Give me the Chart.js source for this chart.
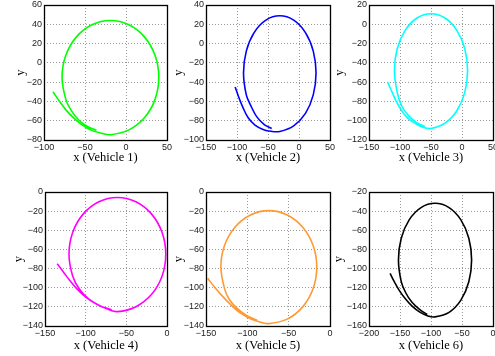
<!DOCTYPE html>
<html>
<head>
<meta charset="utf-8">
<script src="https://cdn.jsdelivr.net/npm/chart.js@4/dist/chart.umd.min.js"></script>
<style>
  body { margin: 0; background: #fff; }
  #wrap { position: relative; width: 495px; height: 356px; overflow: hidden; }
  #wrap canvas { position: absolute; }
</style>
</head>
<body>
<div id="wrap"></div>
<script>
// Trajectories (x, y per vehicle)
var v1x = [-89, -81, -73, -64, -54, -42, -30, -19, 3.6, 22.7, 35.5, 40, 35.5, 22.7, 3.6, -19, -41.6, -60.7, -73.5, -78, -73.5, -67, -58, -47, -36];
var v1y = [-30, -40, -49, -57, -64, -70, -73, -74.5, -69.5, -56.7, -37.6, -15, 7.6, 26.7, 39.5, 44, 39.5, 26.7, 7.6, -15, -37.6, -49, -59, -66, -70];

var v2x = [-103, -97, -90, -82, -71, -58, -45, -31, -8.6, 10.4, 23, 27.5, 23, 10.4, -8.6, -31, -53.4, -72.4, -85, -89.5, -85, -78, -68, -56, -44];
var v2y = [-45, -56, -67, -77, -84.5, -89, -91, -91.2, -85.3, -72.4, -53.2, -30.5, -7.8, 11.4, 24.3, 28.8, 24.3, 11.4, -7.8, -30.5, -53.2, -64, -76, -84, -88];

var v3x = [-120, -113, -106, -98, -88, -75, -62, -50, -27.4, -8.3, 4.5, 9, 4.5, -8.3, -27.4, -50, -72.6, -91.7, -104.5, -109, -104.5, -97, -86, -73, -60];
var v3y = [-60, -70, -80, -89, -97, -103, -107, -108, -102.5, -89.7, -70.6, -48, -25.4, -6.3, 6.5, 11, 6.5, -6.3, -25.4, -48, -70.6, -85, -95, -102, -106];

var v4x = [-135, -127, -119, -111, -101, -88, -74, -61, -38.2, -18.9, -6, -1.5, -6, -18.9, -38.2, -61, -83.8, -103.1, -116, -120.5, -116, -108, -96, -82, -68];
var v4y = [-75, -84, -93, -101, -109, -116.5, -122, -125, -119.8, -106.9, -87.7, -65, -42.3, -23.1, -10.2, -5.7, -10.2, -23.1, -42.3, -65, -87.7, -101, -112, -119, -123];

var v5x = [-148, -140, -131, -121, -109, -95, -82, -74, -51.8, -33, -20.4, -16, -20.4, -33, -51.8, -74, -96.2, -115, -127.6, -132, -127.6, -122, -113, -101, -88];
var v5y = [-90, -99, -108, -117, -126, -133, -136.5, -137.5, -132.8, -120, -100.9, -78.4, -55.9, -36.8, -24, -19.5, -24, -36.8, -55.9, -78.4, -100.9, -112, -121, -129, -134];

var v6x = [-166, -159, -151, -142, -131, -118, -105, -93.5, -70.9, -51.8, -39, -34.5, -39, -51.8, -70.9, -93.5, -116.1, -135.2, -148, -152.5, -148, -141, -131, -118, -106];
var v6y = [-105, -114, -123, -131, -139, -145.5, -149.5, -150.5, -145.7, -132.9, -113.7, -91, -68.3, -49.1, -36.3, -31.8, -36.3, -49.1, -68.3, -91, -113.7, -125, -135, -143, -148];

var xLabels = ['x (Vehicle 1)', 'x (Vehicle 2)', 'x (Vehicle 3)', 'x (Vehicle 4)', 'x (Vehicle 5)', 'x (Vehicle 6)'];
var xLimits = [[-100, 50], [-150, 50], [-150, 50], [-150, 0], [-150, 0], [-200, 0]];
var yLimits = [[-80, 60], [-100, 40], [-120, 20], [-140, 0], [-140, 0], [-160, -20]];
var lineColors = ['#00ff00', '#0000ff', '#00ffff', '#ff00ff', '#ff9933', '#000000'];

// Subplot placement on the page (plot box, label positions)
var boxes = [
  { left: 44, top: 4.5, right: 167, bottom: 139, yTitleX: 20, xTitleY: 157 },
  { left: 206, top: 4.5, right: 330, bottom: 139, yTitleX: 178, xTitleY: 157 },
  { left: 369, top: 4.5, right: 493, bottom: 139, yTitleX: 339, xTitleY: 157 },
  { left: 45, top: 192, right: 167, bottom: 326, yTitleX: 18, xTitleY: 346 },
  { left: 206, top: 192, right: 330, bottom: 326, yTitleX: 178, xTitleY: 346 },
  { left: 369, top: 192, right: 493, bottom: 326, yTitleX: 338, xTitleY: 346 }
];

var allX = [v1x, v2x, v3x, v4x, v5x, v6x];
var allY = [v1y, v2y, v3y, v4y, v5y, v6y];

// draws the closed box around the plot area, like matlab
var framePlugin = {
  id: 'frame',
  afterDatasetsDraw: function (chart) {
    var a = chart.chartArea;
    var ctx = chart.ctx;
    ctx.save();
    ctx.strokeStyle = '#000';
    ctx.lineWidth = 1.3;
    ctx.strokeRect(Math.round(a.left) + 0.5, Math.round(a.top) + 0.5,
      Math.round(a.right - a.left), Math.round(a.bottom - a.top));
    ctx.restore();
  }
};

function minusSign(v) {
  return String(v).replace('-', '\u2212');
}

var wrap = document.getElementById('wrap');

boxes.forEach(function (b, i) {
  var padTop = 8, padRight = 12;
  var L = b.yTitleX - 6;
  var T = b.top - padTop;
  var W = b.right + padRight - L;
  var H = b.xTitleY + 6 - T;
  var yw = b.left - L;
  var xh = b.xTitleY + 6 - b.bottom;

  var canvas = document.createElement('canvas');
  canvas.width = Math.round(W);
  canvas.height = Math.round(H);
  canvas.style.left = L + 'px';
  canvas.style.top = T + 'px';
  canvas.style.width = Math.round(W) + 'px';
  canvas.style.height = Math.round(H) + 'px';
  wrap.appendChild(canvas);

  var points = allX[i].map(function (x, k) { return { x: x, y: allY[i][k] }; });

  new Chart(canvas.getContext('2d'), {
    type: 'scatter',
    data: {
      datasets: [{
        data: points,
        showLine: true,
        borderColor: lineColors[i],
        borderWidth: 1.6,
        pointRadius: 0,
        tension: 0.35,
        fill: false
      }]
    },
    options: {
      responsive: false,
      animation: false,
      layout: { padding: { left: 0, top: padTop, right: padRight, bottom: 0 } },
      plugins: { legend: { display: false }, tooltip: { enabled: false } },
      scales: {
        x: {
          type: 'linear',
          min: xLimits[i][0],
          max: xLimits[i][1],
          afterFit: function (s) { s.height = xh; },
          ticks: {
            stepSize: 50,
            autoSkip: false,
            maxRotation: 0,
            padding: 2,
            color: '#222',
            font: { family: 'Liberation Sans', size: 9 },
            callback: minusSign
          },
          grid: { color: '#999', lineWidth: 1, drawTicks: false },
          border: { display: false, dash: [1, 2] },
          title: {
            display: true,
            text: xLabels[i],
            color: '#000',
            padding: 0,
            font: { family: 'Liberation Serif', size: 12.5, lineHeight: 1 }
          }
        },
        y: {
          type: 'linear',
          min: yLimits[i][0],
          max: yLimits[i][1],
          afterFit: function (s) { s.width = yw; },
          ticks: {
            stepSize: 20,
            autoSkip: false,
            padding: 2,
            color: '#222',
            font: { family: 'Liberation Sans', size: 9 },
            callback: minusSign
          },
          grid: { color: '#999', lineWidth: 1, drawTicks: false },
          border: { display: false, dash: [1, 2] },
          title: {
            display: true,
            text: 'y',
            color: '#000',
            padding: 0,
            font: { family: 'Liberation Serif', size: 12.5, lineHeight: 1 }
          }
        }
      }
    },
    plugins: [framePlugin]
  });
});
</script>
</body>
</html>
